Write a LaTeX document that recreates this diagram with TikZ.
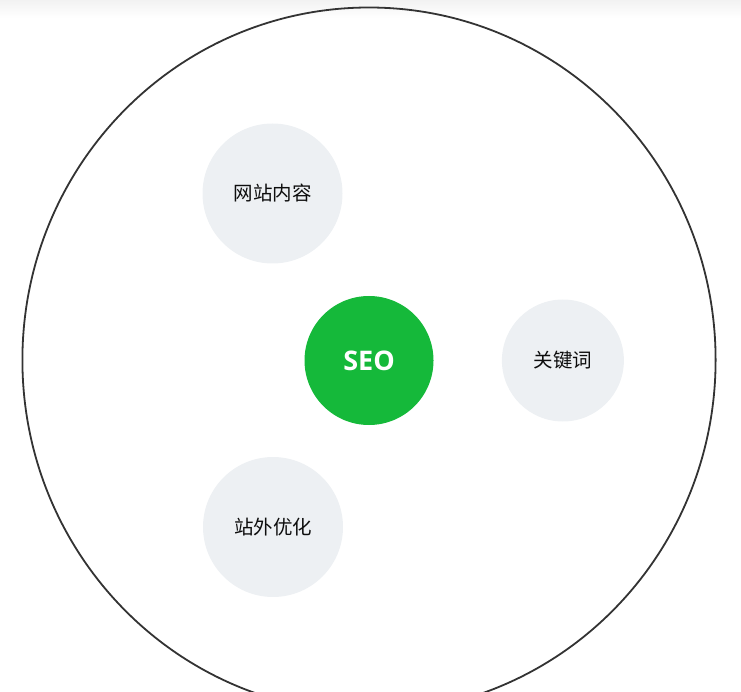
\documentclass[tikz,border=0pt]{standalone}
\usepackage{fontspec}
\setmainfont{Open Sans}
\newfontfamily\cjk{Noto Sans CJK SC}
\usetikzlibrary{positioning}

\definecolor{seogreen}{RGB}{21,185,58}
\definecolor{topicgray}{RGB}{237,240,243}
\definecolor{ringgray}{RGB}{51,51,51}

\tikzset{
  hub/.style={circle,fill=seogreen,inner sep=0pt,minimum size=129pt,
    text=white,font=\bfseries\fontsize{27}{27}\selectfont},
  topic/.style={circle,fill=topicgray,inner sep=0pt,
    text=black!95,font=\cjk\fontsize{19.5}{19.5}\selectfont}
}

\begin{document}
\begin{tikzpicture}[x=1pt,y=-1pt]

\useasboundingbox (0,0) rectangle (741,692);
\clip (0,0) rectangle (741,692);

% top shadow and outer ring
\shade[top color=black!5,bottom color=white] (0,0) rectangle (741,18);
\draw[ringgray,line width=1.8pt] (369,360) ellipse [x radius=346.6,y radius=352.5];

% centre and topics
\node[hub] (seo) at (369,360.5) {SEO};
\node[topic,minimum size=122pt,right=68pt of seo] (keyword) {关键词};
\node[topic,minimum size=140pt] (content) at (272.5,193.5) {网站内容};
\node[topic,minimum size=140pt] (offsite) at (273,527) {站外优化};
\end{tikzpicture}
\end{document}
